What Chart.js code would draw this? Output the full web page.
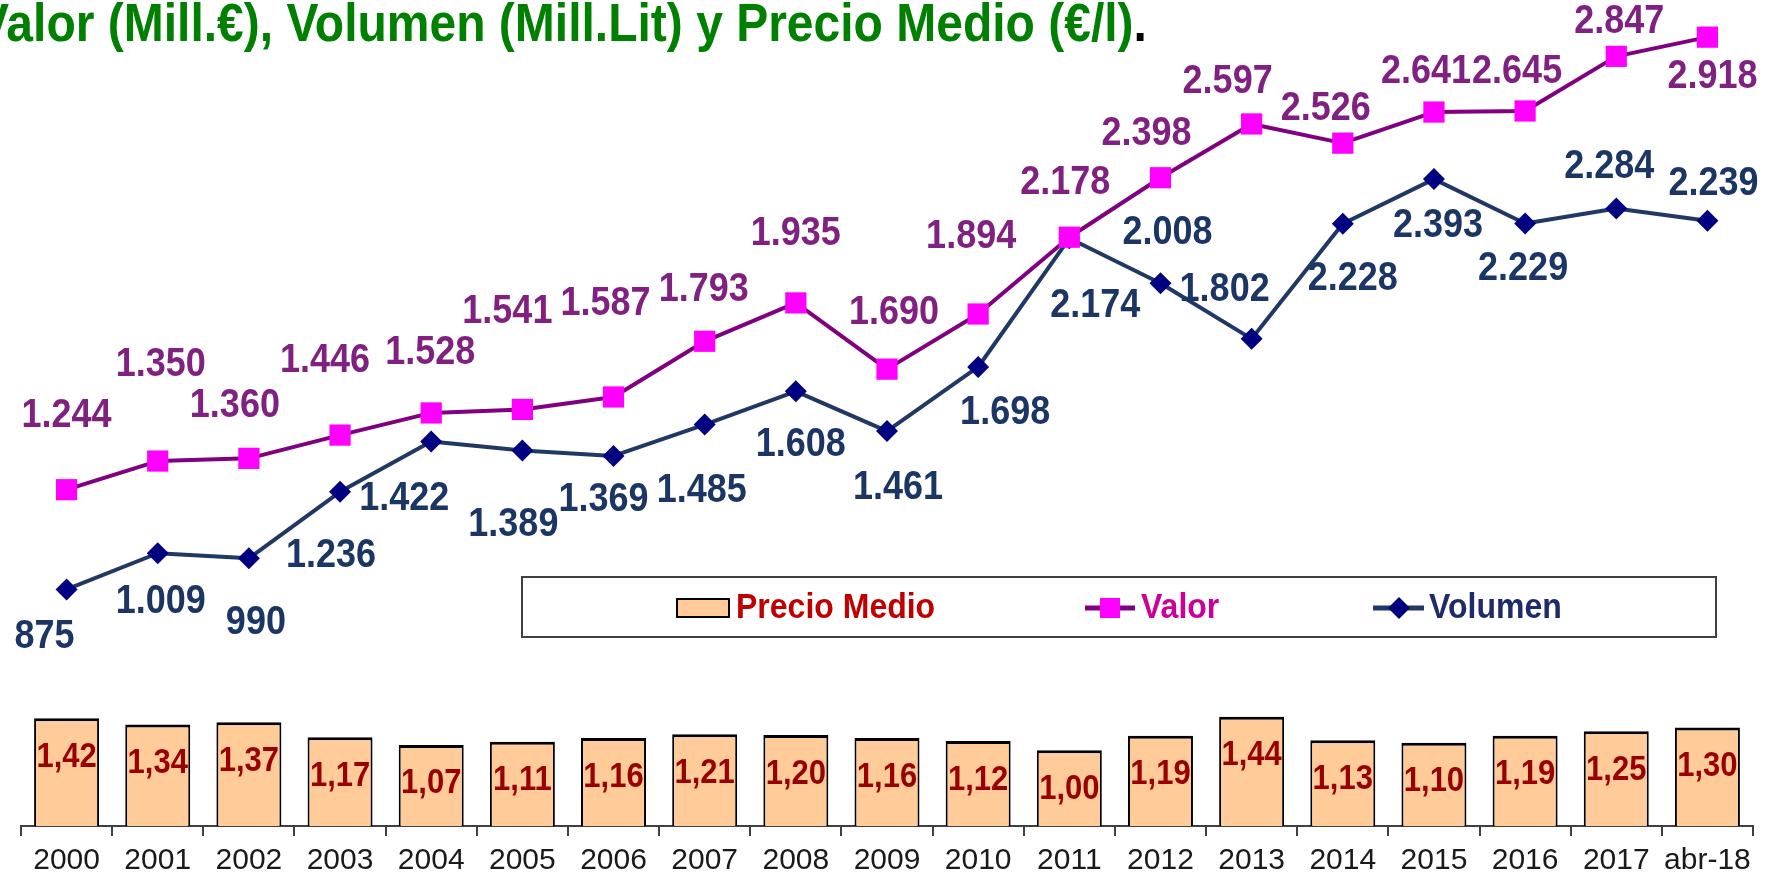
<!DOCTYPE html>
<html lang="es">
<head>
<meta charset="utf-8">
<title>Valor, Volumen y Precio Medio</title>
<script src="https://cdn.jsdelivr.net/npm/chart.js@4.4.1/dist/chart.umd.min.js"></script>
<style>
  body { margin: 0; background: #fff; overflow: hidden; }
  #wrap { position: relative; width: 1775px; height: 874px; }
  #box { position: absolute; left: 0; top: 0; width: 1775px; height: 874px; }
  #title {
    position: absolute; left: -23px; top: 1px; z-index: 2;
    font: bold 48px "Liberation Sans", Arial, sans-serif; line-height: 47px;
    color: #008000; white-space: nowrap;
    transform: scaleY(1.1); transform-origin: 0 40px;
  }
  #title span { color: #000; }
</style>
</head>
<body>
<div id="wrap">
  <div id="box"><canvas id="chart"></canvas></div>
  <div id="title">Valor (Mill.€), Volumen (Mill.Lit) y Precio Medio (€/l)<span>.</span></div>
</div>
<script>
// ===== Data =====
let years = ["2000", "2001", "2002", "2003", "2004", "2005", "2006", "2007", "2008", "2009",
             "2010", "2011", "2012", "2013", "2014", "2015", "2016", "2017", "abr-18"];
let valor = [1244, 1350, 1360, 1446, 1528, 1541, 1587, 1793, 1935, 1690,
             1894, 2178, 2398, 2597, 2526, 2641, 2645, 2847, 2918];
let volumen = [875, 1009, 990, 1236, 1422, 1389, 1369, 1485, 1608, 1461,
               1698, 2174, 2008, 1802, 2228, 2393, 2229, 2284, 2239];
let precio = [1.42, 1.34, 1.37, 1.17, 1.07, 1.11, 1.16, 1.21, 1.20, 1.16,
              1.12, 1.00, 1.19, 1.44, 1.13, 1.10, 1.19, 1.25, 1.30];

// ===== Label nudges (px from the point, like the hand placed labels) =====
let valorShift = [[0, -74], [3, -96], [-14, -52], [-15, -74], [-1, -60], [-15, -98], [-8, -93],
                  [-1, -51], [0, -69], [7, -56], [-7, -77], [-4, -54], [-14, -44], [-24, -42],
                  [-17, -34], [-8, -40], [-8, -39], [3, -34], [5, 40]];
let volumenShift = [[-22, 47], [3, 49], [7, 65], [-9, 64], [-27, 57], [-9, 74], [-10, 44],
                    [-3, 66], [5, 54], [11, 57], [27, 46], [26, 68], [7, -50], [-27, -49],
                    [10, 55], [4, 47], [-2, 45], [-7, -42], [6, -37]];

let fontFamily = "'Liberation Sans', Arial, sans-serif";

// the original text is a bit taller than Arial, stretch it a little
let stretch = 1.12;

// ===== Number formats (es) =====
function formatMiles(v) {
  return String(v).replace(/\B(?=(\d{3})+(?!\d))/g, ".");
}

function formatPrecio(v) {
  return v.toFixed(2).replace(".", ",");
}

function tallText(ctx, text, x, y) {
  ctx.save();
  ctx.translate(x, y);
  ctx.scale(1, stretch);
  ctx.fillText(text, 0, 0);
  ctx.restore();
}

// ===== Value labels =====
let valueLabels = {
  id: "valueLabels",
  afterDatasetsDraw(chart) {
    let ctx = chart.ctx;
    ctx.save();
    ctx.textAlign = "center";
    ctx.textBaseline = "middle";
    chart.data.datasets.forEach((ds, i) => {
      let meta = chart.getDatasetMeta(i);
      ctx.fillStyle = ds.labelColor;
      ctx.font = ds.labelFont;
      meta.data.forEach((el, j) => {
        let dx = 0, dy = ds.labelDrop || 0;
        if (ds.labelShift) {
          dx = ds.labelShift[j][0];
          dy = ds.labelShift[j][1];
        }
        tallText(ctx, ds.format(ds.data[j]), el.x + dx, el.y + dy);
      });
    });
    ctx.restore();
  }
};

// ===== Boxed legend =====
let boxLegend = {
  id: "boxLegend",
  afterDraw(chart) {
    let ctx = chart.ctx;
    let cy = 608;
    ctx.save();
    ctx.fillStyle = "#fff";
    ctx.strokeStyle = "#404040";
    ctx.lineWidth = 2;
    ctx.fillRect(522, 577, 1194, 60);
    ctx.strokeRect(522, 577, 1194, 60);

    // Precio Medio
    ctx.fillStyle = "#FFCC99";
    ctx.strokeStyle = "#000";
    ctx.fillRect(677, cy - 9, 52, 18);
    ctx.strokeRect(677, cy - 9, 52, 18);

    // Valor
    ctx.strokeStyle = "#800080";
    ctx.lineWidth = 5;
    ctx.beginPath();
    ctx.moveTo(1085, cy);
    ctx.lineTo(1135, cy);
    ctx.stroke();
    ctx.fillStyle = "#FF00FF";
    ctx.fillRect(1100, cy - 10, 20, 20);

    // Volumen
    ctx.strokeStyle = "#1F3864";
    ctx.beginPath();
    ctx.moveTo(1373, cy);
    ctx.lineTo(1424, cy);
    ctx.stroke();
    ctx.fillStyle = "#000080";
    ctx.beginPath();
    ctx.moveTo(1399, cy - 11);
    ctx.lineTo(1410, cy);
    ctx.lineTo(1399, cy + 11);
    ctx.lineTo(1388, cy);
    ctx.closePath();
    ctx.fill();

    ctx.font = "bold 32px " + fontFamily;
    ctx.textAlign = "left";
    ctx.textBaseline = "middle";
    ctx.fillStyle = "#C00000";
    tallText(ctx, "Precio Medio", 736, cy);
    ctx.fillStyle = "#CC0099";
    tallText(ctx, "Valor", 1141, cy);
    ctx.fillStyle = "#1F2A6B";
    tallText(ctx, "Volumen", 1429, cy);
    ctx.restore();
  }
};

// ===== Chart =====
let chart = new Chart(document.getElementById("chart"), {
  data: {
    labels: years,
    datasets: [
      {
        type: "line",
        label: "Valor",
        data: valor,
        yAxisID: "y",
        order: 1,
        borderColor: "#800080",
        borderWidth: 4,
        borderJoinStyle: "round",
        tension: 0,
        pointStyle: "rect",
        pointRadius: 15,
        pointHoverRadius: 15,
        pointBorderWidth: 0,
        pointBackgroundColor: "#FF00FF",
        pointBorderColor: "#FF00FF",
        labelColor: "#802080",
        labelFont: "bold 36px " + fontFamily,
        labelShift: valorShift,
        format: formatMiles
      },
      {
        type: "line",
        label: "Volumen",
        data: volumen,
        yAxisID: "y",
        order: 2,
        borderColor: "#1F3864",
        borderWidth: 4,
        borderJoinStyle: "round",
        tension: 0,
        pointStyle: "rectRot",
        pointRadius: 11,
        pointHoverRadius: 11,
        pointBorderWidth: 0,
        pointBackgroundColor: "#000080",
        pointBorderColor: "#000080",
        labelColor: "#1B3564",
        labelFont: "bold 36px " + fontFamily,
        labelShift: volumenShift,
        format: formatMiles
      },
      {
        type: "bar",
        label: "Precio Medio",
        data: precio,
        yAxisID: "y2",
        order: 3,
        backgroundColor: "#FFCC99",
        borderColor: "#000",
        borderWidth: { top: 3, left: 2, right: 2, bottom: 0 },
        barPercentage: 0.713,
        categoryPercentage: 1,
        labelColor: "#990000",
        labelFont: "bold 31px " + fontFamily,
        labelDrop: 39,
        format: formatPrecio
      }
    ]
  },
  options: {
    responsive: true,
    maintainAspectRatio: false,
    animation: false,
    layout: { padding: { top: 13, left: 21, right: 22, bottom: 0 } },
    plugins: {
      legend: { display: false },
      tooltip: { enabled: false }
    },
    scales: {
      x: {
        offset: true,
        grid: { offset: true, drawOnChartArea: false, tickLength: 10, color: "#404040", lineWidth: 2 },
        border: { color: "#404040", width: 2 },
        ticks: {
          color: "#1a1a1a",
          padding: 10,
          autoSkip: false,
          maxRotation: 0,
          font: { family: fontFamily, size: 30, lineHeight: 1 }
        },
        afterFit: (scale) => { scale.height = 48; }
      },
      y: { type: "linear", display: false, min: 0, max: 3000 },
      y2: { type: "linear", display: false, min: 0, max: 10.7 }
    }
  },
  plugins: [valueLabels, boxLegend]
});
</script>
</body>
</html>
